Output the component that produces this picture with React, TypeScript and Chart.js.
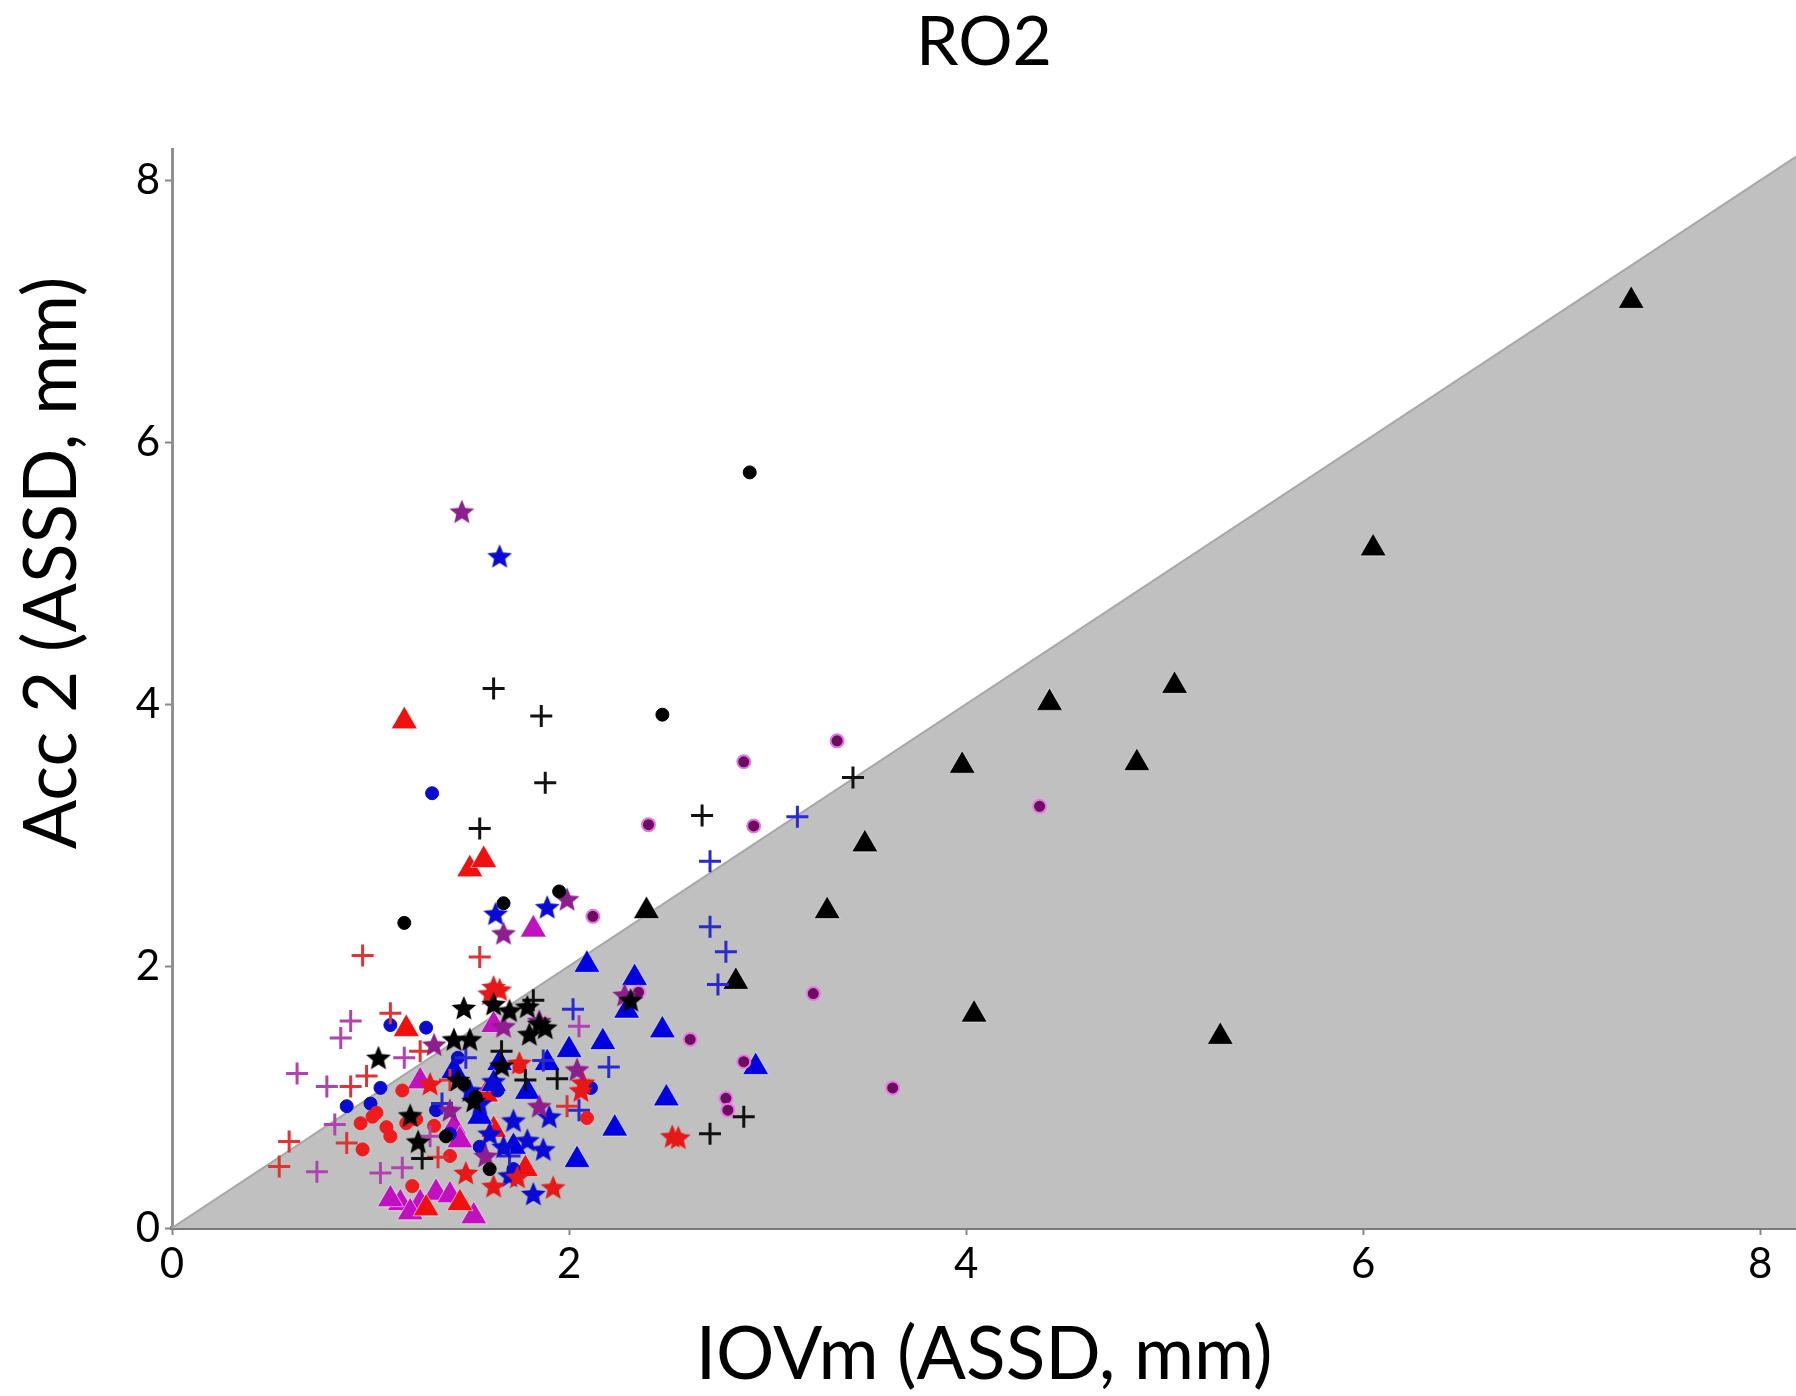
import { useEffect, useRef } from "react";
import { Chart, registerables } from "chart.js";

Chart.register(...registerables);

type P = [number, number];

// ---- text ----
const TITLE = "RO2";
const X_TITLE = "IOVm (ASSD, mm)";
const Y_TITLE = "Acc 2 (ASSD, mm)";
const X_TICKS = [0, 2, 4, 6, 8];
const Y_TICKS = [0, 2, 4, 6, 8];

// ---- shaded region (below identity line y = x) ----
const IDENTITY_LINE: P[] = [[0, 0], [8.2, 8.2]];

// ---- black series ----
const blackTriangles: P[] = [[7.35, 7.08], [6.05, 5.19], [5.05, 4.14], [4.42, 4.01], [3.98, 3.53], [4.86, 3.55], [3.49, 2.93], [3.30, 2.42], [2.39, 2.42], [2.84, 1.88], [4.04, 1.63], [5.28, 1.46]];
const blackDots: P[] = [[2.91, 5.77], [2.47, 3.92], [1.17, 2.33], [1.95, 2.57], [1.67, 2.48], [1.47, 1.10], [1.53, 1.00], [1.38, 0.70], [1.60, 0.45]];
const blackCrosses: P[] = [[1.62, 4.12], [1.86, 3.91], [1.88, 3.40], [1.55, 3.05], [2.67, 3.15], [3.43, 3.44], [2.71, 0.72], [2.88, 0.85], [1.82, 1.74], [1.94, 1.14], [1.78, 1.13], [1.26, 0.53], [1.66, 1.35]];
const blackStars: P[] = [[1.04, 1.30], [1.20, 0.86], [1.44, 1.13], [1.50, 1.44], [1.62, 1.71], [1.79, 1.69], [1.47, 1.68], [1.24, 0.66], [1.52, 0.97], [1.66, 1.24], [1.80, 1.48], [1.88, 1.53], [2.31, 1.74], [1.70, 1.66], [1.42, 1.44], [1.85, 1.56]];

// ---- blue series ----
const blueTriangles: P[] = [[2.09, 2.01], [2.33, 1.91], [2.29, 1.66], [2.47, 1.51], [2.17, 1.42], [2.00, 1.36], [1.89, 1.26], [1.65, 1.26], [1.79, 1.04], [2.49, 0.99], [2.23, 0.76], [2.04, 0.52], [2.94, 1.23], [1.42, 1.20], [1.72, 0.62], [1.55, 0.85], [1.62, 1.10]];
const blueDots: P[] = [[1.31, 3.32], [1.10, 1.55], [1.28, 1.53], [1.05, 1.07], [1.00, 0.95], [0.88, 0.93], [1.44, 1.30], [2.11, 1.07], [1.64, 1.05], [1.33, 0.90], [1.55, 0.62], [1.72, 0.45], [1.40, 0.72]];
const blueCrosses: P[] = [[3.15, 3.14], [2.71, 2.80], [2.71, 2.30], [2.79, 2.11], [2.75, 1.86], [2.02, 1.67], [2.20, 1.23], [1.87, 1.28], [1.48, 1.30], [1.70, 0.55], [1.36, 0.95], [2.05, 0.90]];
const blueStars: P[] = [[1.65, 5.13], [1.63, 2.40], [1.89, 2.45], [1.82, 0.26], [1.67, 0.62], [1.87, 0.60], [1.60, 0.72], [1.72, 0.82], [1.79, 0.67], [1.55, 0.95], [1.62, 1.12], [1.70, 0.40], [1.50, 1.05], [1.90, 0.85]];

// ---- red series ----
const redTriangles: P[] = [[1.17, 3.87], [1.50, 2.74], [1.57, 2.81], [1.18, 1.52], [1.45, 0.19], [1.28, 0.15], [1.62, 0.75], [1.58, 1.02], [1.78, 0.45]];
const redDots: P[] = [[1.16, 1.05], [1.03, 0.88], [0.95, 0.80], [1.08, 0.77], [1.10, 0.70], [0.96, 0.60], [1.21, 0.32], [2.09, 0.84], [1.75, 1.23], [1.18, 0.80], [1.32, 0.78], [1.01, 0.85], [1.23, 0.83], [1.40, 0.55]];
const redCrosses: P[] = [[0.96, 2.08], [1.55, 2.07], [1.10, 1.64], [0.90, 1.08], [0.98, 1.16], [0.88, 0.65], [0.59, 0.66], [0.54, 0.47], [1.34, 0.54], [1.40, 1.13], [1.99, 0.93], [1.25, 1.35]];
const redStars: P[] = [[1.62, 1.84], [1.65, 1.82], [1.60, 1.79], [2.07, 1.11], [2.06, 1.05], [1.74, 0.39], [1.62, 0.32], [1.92, 0.31], [2.52, 0.70], [2.55, 0.69], [1.75, 1.26], [1.48, 0.42], [1.30, 1.10]];

// ---- magenta series ----
const magentaTriangles: P[] = [[1.82, 2.28], [1.25, 1.12], [1.15, 0.19], [1.25, 0.19], [1.33, 0.27], [1.40, 0.25], [1.52, 0.09], [1.42, 0.77], [1.45, 0.67], [1.10, 0.22], [1.20, 0.12], [1.62, 1.55]];
const magentaDots: P[] = [[2.88, 3.56], [2.40, 3.08], [2.93, 3.07], [3.35, 3.72], [4.37, 3.22], [3.63, 1.07], [3.23, 1.79], [2.61, 1.44], [2.88, 1.27], [2.79, 0.99], [2.80, 0.90], [2.12, 2.38], [2.35, 1.80]];
const magentaCrosses: P[] = [[0.90, 1.58], [0.85, 1.45], [0.63, 1.18], [0.78, 1.08], [0.82, 0.79], [0.73, 0.43], [1.17, 1.30], [1.16, 0.46], [2.05, 1.54], [1.05, 0.42], [1.30, 0.70]];
const magentaStars: P[] = [[1.46, 5.47], [1.99, 2.51], [1.67, 2.25], [1.32, 1.40], [2.04, 1.21], [1.85, 0.93], [1.67, 1.54], [2.28, 1.78], [1.85, 1.58], [1.58, 0.55], [1.40, 0.90]];

type Shape = "triangle" | "circle" | "cross" | "star";
interface Group { label: string; data: P[]; color: string; edge?: string; shape: Shape; }

const GROUPS: Group[] = [
  { label: "black star", data: blackStars, color: "#000000", shape: "star" },
  { label: "black cross", data: blackCrosses, color: "#111111", shape: "cross" },
  { label: "black dot", data: blackDots, color: "#000000", shape: "circle" },
  { label: "magenta star", data: magentaStars, color: "#8e1e8e", shape: "star" },
  { label: "magenta cross", data: magentaCrosses, color: "#b043b0", shape: "cross" },
  { label: "magenta dot", data: magentaDots, color: "#6e0a62", edge: "#e27ae2", shape: "circle" },
  { label: "red star", data: redStars, color: "#e81818", shape: "star" },
  { label: "red cross", data: redCrosses, color: "#e03434", shape: "cross" },
  { label: "red dot", data: redDots, color: "#ee1c1c", shape: "circle" },
  { label: "blue star", data: blueStars, color: "#0a0ad6", shape: "star" },
  { label: "blue cross", data: blueCrosses, color: "#2a2ad0", shape: "cross" },
  { label: "blue dot", data: blueDots, color: "#0a0ad0", shape: "circle" },
  { label: "black triangle", data: blackTriangles, color: "#000000", shape: "triangle" },
  { label: "blue triangle", data: blueTriangles, color: "#0000e0", shape: "triangle" },
  { label: "red triangle", data: redTriangles, color: "#f01010", shape: "triangle" },
  { label: "magenta triangle", data: magentaTriangles, color: "#c010c0", shape: "triangle" },
];

function makeStar(color: string, r: number): HTMLCanvasElement {
  const size = Math.ceil(r * 2 + 4);
  const c = document.createElement("canvas");
  c.width = size;
  c.height = size;
  const ctx = c.getContext("2d")!;
  const cx = size / 2;
  const cy = size / 2 + 1;
  ctx.beginPath();
  for (let i = 0; i < 10; i++) {
    const rad = i % 2 === 0 ? r : r * 0.45;
    const a = -Math.PI / 2 + (i * Math.PI) / 5;
    const px = cx + rad * Math.cos(a);
    const py = cy + rad * Math.sin(a);
    if (i === 0) ctx.moveTo(px, py);
    else ctx.lineTo(px, py);
  }
  ctx.closePath();
  ctx.fillStyle = color;
  ctx.fill();
  return c;
}

function datasetFor(g: Group): any {
  const data = g.data.map(([x, y]) => ({ x, y }));
  const base: any = { label: g.label, data, order: 1 };
  if (g.shape === "star") {
    const img = makeStar(g.color, 13);
    return { ...base, pointStyle: img, pointRadius: 13, backgroundColor: g.color, borderColor: g.color };
  }
  if (g.shape === "cross") {
    return { ...base, pointStyle: "cross", pointRadius: 11, pointBorderWidth: 3, borderWidth: 3, borderColor: g.color, backgroundColor: g.color, pointBorderColor: g.color };
  }
  if (g.shape === "circle") {
    return { ...base, pointStyle: "circle", pointRadius: 6.5, pointBorderWidth: g.edge ? 2 : 1, borderColor: g.edge || g.color, pointBorderColor: g.edge || g.color, backgroundColor: g.color, pointBackgroundColor: g.color };
  }
  return { ...base, pointStyle: "triangle", pointRadius: 15, pointBorderWidth: 1, borderColor: "rgba(255,255,255,0.55)", pointBorderColor: "rgba(255,255,255,0.55)", backgroundColor: g.color, pointBackgroundColor: g.color };
}

const yTitlePlugin = {
  id: "yAxisTitle",
  afterDraw(chart: any) {
    const ctx = chart.ctx as CanvasRenderingContext2D;
    ctx.save();
    ctx.translate(52, 563);
    ctx.rotate(-Math.PI / 2);
    ctx.font = "73px Lato";
    ctx.fillStyle = "#000000";
    ctx.textAlign = "center";
    ctx.textBaseline = "middle";
    ctx.fillText(Y_TITLE, 0, 0);
    ctx.restore();
  },
};

export default function App() {
  const ref = useRef<HTMLCanvasElement>(null);
  useEffect(() => {
    document.body.style.margin = "0";
    const canvas = ref.current!;
    const chart = new Chart(canvas, {
      type: "scatter",
      data: {
        datasets: [
          ...GROUPS.map(datasetFor),
          {
            type: "line",
            label: "y = x",
            data: IDENTITY_LINE.map(([x, y]) => ({ x, y })),
            fill: "origin",
            backgroundColor: "#c0c0c0",
            borderColor: "#a8a8a8",
            borderWidth: 2,
            pointRadius: 0,
            order: 100,
          } as any,
        ],
      },
      options: {
        responsive: false,
        animation: false,
        devicePixelRatio: 1,
        layout: { padding: 0, autoPadding: false },
        plugins: {
          legend: { display: false },
          tooltip: { enabled: false },
          title: {
            display: true,
            text: TITLE,
            color: "#000000",
            fullSize: false,
            font: { size: 68, family: "Lato", weight: "normal", lineHeight: 1.2 },
            padding: { top: 2, bottom: 66 },
          },
        },
        scales: {
          x: {
            type: "linear",
            min: 0,
            max: 8.18,
            position: "bottom",
            z: 1,
            afterBuildTicks: (s: any) => { s.ticks = X_TICKS.map((v) => ({ value: v })); },
            afterFit: (s: any) => { s.height = 168; },
            grid: { display: true, drawOnChartArea: false, drawTicks: true, tickLength: 7, tickWidth: 2, tickColor: "#888888" },
            border: { display: true, color: "#7a7a7a", width: 4 },
            ticks: { color: "#000000", font: { size: 42, family: "Lato" }, padding: 4, maxRotation: 0, autoSkip: false },
            title: { display: true, text: X_TITLE, color: "#000000", font: { size: 73, family: "Lato", lineHeight: 1 }, padding: { top: 0, bottom: 4 } },
          },
          y: {
            type: "linear",
            min: 0,
            max: 8.235,
            z: 1,
            afterBuildTicks: (s: any) => { s.ticks = Y_TICKS.map((v) => ({ value: v })); },
            afterFit: (s: any) => { s.width = 172; },
            grid: { display: true, drawOnChartArea: false, drawTicks: true, tickLength: 7, tickWidth: 2, tickColor: "#888888" },
            border: { display: true, color: "#909090", width: 3 },
            ticks: { color: "#000000", font: { size: 42, family: "Lato" }, padding: 5, autoSkip: false },
            title: { display: false },
          },
        },
      } as any,
      plugins: [yTitlePlugin],
    });
    return () => chart.destroy();
  }, []);
  return (
    <div style={{ width: 1796, height: 1396 }}>
      <canvas ref={ref} width={1796} height={1396} style={{ display: "block" }} />
    </div>
  );
}
